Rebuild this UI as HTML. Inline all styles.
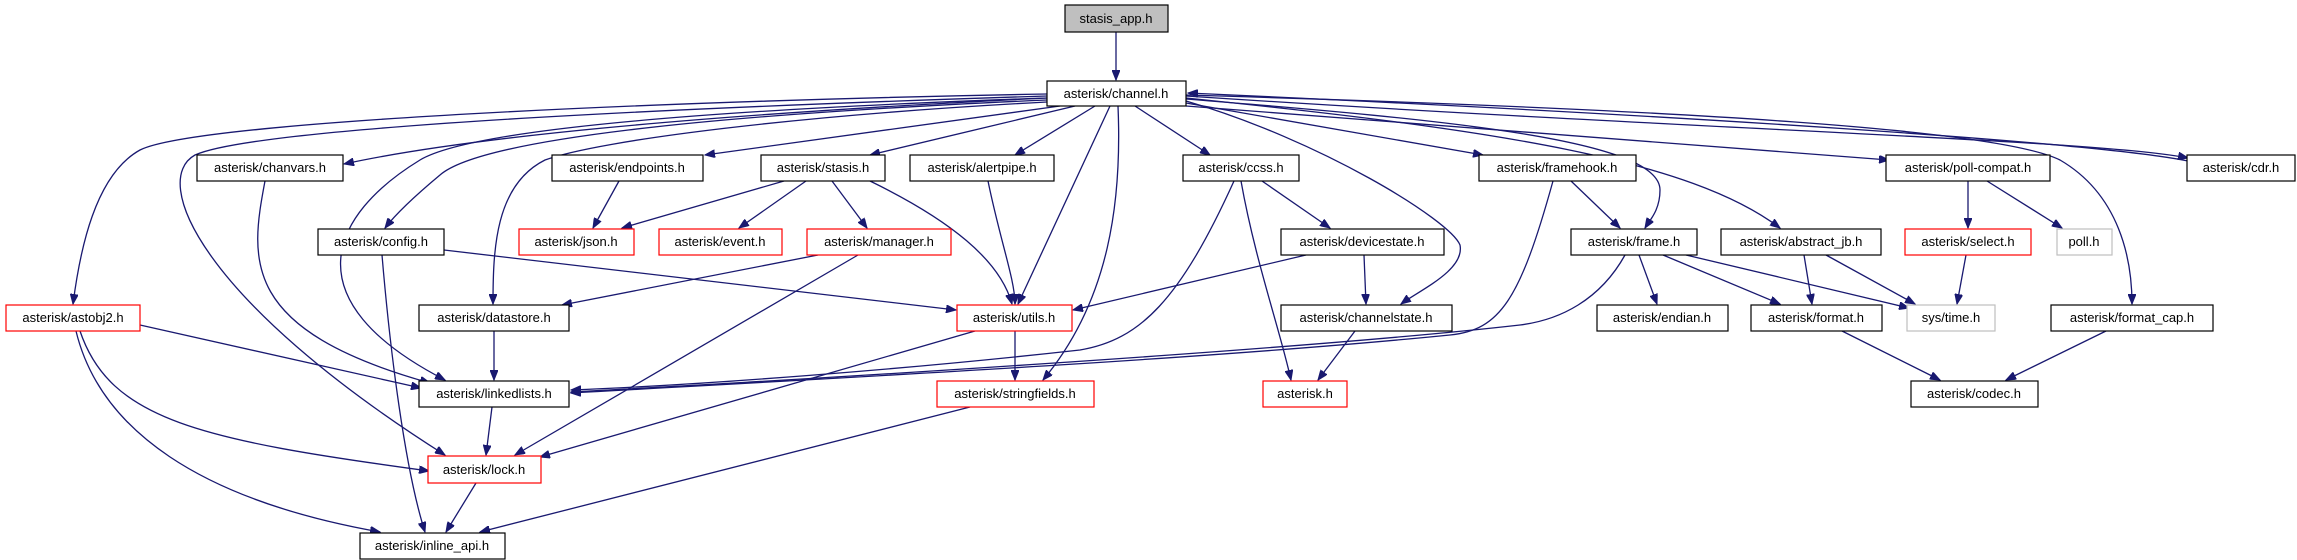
<!DOCTYPE html>
<html><head><meta charset="utf-8"><style>
html,body{margin:0;padding:0;background:#fff;}
svg{display:block;}
text{font-family:"Liberation Sans",sans-serif;font-size:13px;text-anchor:middle;fill:#000;}
.e{fill:none;stroke:#191970;stroke-width:1.3;marker-end:url(#a);}
.n{fill:#fff;stroke:#000;stroke-width:1.2;}
.r{fill:#fff;stroke:#ff0000;stroke-width:1.2;}
.g{fill:#fff;stroke:#bfbfbf;stroke-width:1.2;}
</style></head><body>
<svg width="2297" height="560" viewBox="0 0 2297 560" xmlns="http://www.w3.org/2000/svg">
<defs><marker id="a" markerUnits="userSpaceOnUse" markerWidth="11" markerHeight="8" refX="10" refY="4" orient="auto"><path d="M0,0 L10,4 L0,8 z" fill="#191970" stroke="#191970"/></marker></defs>
<g>
<path class="e" d="M1116,32 L1116,80"/>
<path class="e" d="M1047,94 C700,100 200,120 140,150 C95,175 80,250 73,304"/>
<path class="e" d="M1047,96 C600,110 250,130 195,155 C150,180 200,300 445,455"/>
<path class="e" d="M1047,98 C800,110 500,130 344,164"/>
<path class="e" d="M1047,98 C700,110 470,130 420,160 C330,215 290,300 445,380"/>
<path class="e" d="M1047,100 C700,115 480,140 440,175 C410,200 395,215 385,228"/>
<path class="e" d="M1047,102 C800,115 600,140 545,160 C495,185 493,250 493,304"/>
<path class="e" d="M265,181 C250,260 240,330 430,383"/>
<path class="e" d="M1110,106 L1018,304"/>
<path class="e" d="M1118,106 C1122,200 1110,300 1043,380"/>
<path class="e" d="M1075,106 L870,155"/>
<path class="e" d="M1060,106 L705,155"/>
<path class="e" d="M1095,106 L1015,155"/>
<path class="e" d="M1135,106 L1210,155"/>
<path class="e" d="M1186,101 C1320,140 1450,220 1460,245 C1465,270 1420,290 1401,304"/>
<path class="e" d="M1186,103 L1483,155"/>
<path class="e" d="M1186,99 C1450,120 1660,140 1660,190 C1660,210 1650,220 1645,228"/>
<path class="e" d="M1186,98 C1500,130 1690,160 1780,228"/>
<path class="e" d="M1186,106 L1889,160"/>
<path class="e" d="M1186,96 C1700,130 2100,140 2188,158"/>
<path class="e" d="M2188,161 C2100,143 1700,116 1188,93"/>
<path class="e" d="M1186,95 C1700,110 2000,130 2060,160 C2120,195 2132,260 2132,304"/>
<path class="e" d="M619,181 L593,228"/>
<path class="e" d="M784,181 L622,228"/>
<path class="e" d="M806,181 L739,228"/>
<path class="e" d="M832,181 L867,228"/>
<path class="e" d="M870,181 C950,220 1000,260 1012,304"/>
<path class="e" d="M988,181 C1000,240 1015,280 1015,304"/>
<path class="e" d="M1262,181 L1330,228"/>
<path class="e" d="M1241,181 C1255,260 1280,330 1291,380"/>
<path class="e" d="M1234,181 C1180,300 1140,340 1080,350 C900,370 700,385 571,390"/>
<path class="e" d="M1553,181 C1520,300 1500,330 1450,335 C1200,360 800,380 571,393"/>
<path class="e" d="M1571,181 L1620,228"/>
<path class="e" d="M1968,181 L1968,228"/>
<path class="e" d="M1987,181 L2062,228"/>
<path class="e" d="M444,250 L956,310"/>
<path class="e" d="M382,255 C390,350 405,470 425,532"/>
<path class="e" d="M818,255 L562,305"/>
<path class="e" d="M858,255 L515,455"/>
<path class="e" d="M1306,255 L1073,310"/>
<path class="e" d="M1364,255 L1366,304"/>
<path class="e" d="M1625,255 C1600,300 1560,320 1520,325 C1300,350 800,380 571,392"/>
<path class="e" d="M1639,255 L1657,304"/>
<path class="e" d="M1663,255 L1780,304"/>
<path class="e" d="M1686,255 L1909,308"/>
<path class="e" d="M1804,255 L1812,304"/>
<path class="e" d="M1826,255 L1915,304"/>
<path class="e" d="M1966,255 L1957,304"/>
<path class="e" d="M2106,331 L2006,380"/>
<path class="e" d="M1842,331 L1940,380"/>
<path class="e" d="M140,325 L421,388"/>
<path class="e" d="M80,331 C110,420 200,440 429,471"/>
<path class="e" d="M76,331 C100,430 200,500 380,532"/>
<path class="e" d="M494,331 L494,380"/>
<path class="e" d="M1015,331 L1015,380"/>
<path class="e" d="M975,331 L540,457"/>
<path class="e" d="M1355,331 L1318,380"/>
<path class="e" d="M492,407 L486,455"/>
<path class="e" d="M970,407 L480,532"/>
<path class="e" d="M476,483 L446,532"/>
</g>
<g>
<rect x="1065" y="5" width="103" height="27" fill="#bfbfbf" stroke="#000" stroke-width="1.2"/><text x="1116" y="23">stasis_app.h</text>
<rect class="n" x="1047" y="81" width="139" height="25"/><text x="1116" y="98">asterisk/channel.h</text>
<rect class="n" x="197" y="155" width="146" height="26"/><text x="270" y="172">asterisk/chanvars.h</text>
<rect class="n" x="552" y="155" width="151" height="26"/><text x="627" y="172">asterisk/endpoints.h</text>
<rect class="n" x="761" y="155" width="124" height="26"/><text x="823" y="172">asterisk/stasis.h</text>
<rect class="n" x="910" y="155" width="144" height="26"/><text x="982" y="172">asterisk/alertpipe.h</text>
<rect class="n" x="1183" y="155" width="116" height="26"/><text x="1241" y="172">asterisk/ccss.h</text>
<rect class="n" x="1479" y="155" width="157" height="26"/><text x="1557" y="172">asterisk/framehook.h</text>
<rect class="n" x="1886" y="155" width="164" height="26"/><text x="1968" y="172">asterisk/poll-compat.h</text>
<rect class="n" x="2187" y="155" width="108" height="26"/><text x="2241" y="172">asterisk/cdr.h</text>
<rect class="n" x="318" y="229" width="126" height="26"/><text x="381" y="246">asterisk/config.h</text>
<rect class="r" x="519" y="229" width="115" height="26"/><text x="576" y="246">asterisk/json.h</text>
<rect class="r" x="659" y="229" width="123" height="26"/><text x="720" y="246">asterisk/event.h</text>
<rect class="r" x="807" y="229" width="144" height="26"/><text x="879" y="246">asterisk/manager.h</text>
<rect class="n" x="1281" y="229" width="163" height="26"/><text x="1362" y="246">asterisk/devicestate.h</text>
<rect class="n" x="1571" y="229" width="126" height="26"/><text x="1634" y="246">asterisk/frame.h</text>
<rect class="n" x="1721" y="229" width="160" height="26"/><text x="1801" y="246">asterisk/abstract_jb.h</text>
<rect class="r" x="1905" y="229" width="126" height="26"/><text x="1968" y="246">asterisk/select.h</text>
<rect class="g" x="2057" y="229" width="55" height="26"/><text x="2084" y="246">poll.h</text>
<rect class="r" x="6" y="305" width="134" height="26"/><text x="73" y="322">asterisk/astobj2.h</text>
<rect class="n" x="419" y="305" width="150" height="26"/><text x="494" y="322">asterisk/datastore.h</text>
<rect class="r" x="957" y="305" width="115" height="26"/><text x="1014" y="322">asterisk/utils.h</text>
<rect class="n" x="1281" y="305" width="171" height="26"/><text x="1366" y="322">asterisk/channelstate.h</text>
<rect class="n" x="1597" y="305" width="131" height="26"/><text x="1662" y="322">asterisk/endian.h</text>
<rect class="n" x="1751" y="305" width="131" height="26"/><text x="1816" y="322">asterisk/format.h</text>
<rect class="g" x="1907" y="305" width="88" height="26"/><text x="1951" y="322">sys/time.h</text>
<rect class="n" x="2051" y="305" width="162" height="26"/><text x="2132" y="322">asterisk/format_cap.h</text>
<rect class="n" x="419" y="381" width="150" height="26"/><text x="494" y="398">asterisk/linkedlists.h</text>
<rect class="r" x="937" y="381" width="157" height="26"/><text x="1015" y="398">asterisk/stringfields.h</text>
<rect class="r" x="1263" y="381" width="84" height="26"/><text x="1305" y="398">asterisk.h</text>
<rect class="n" x="1911" y="381" width="127" height="26"/><text x="1974" y="398">asterisk/codec.h</text>
<rect class="r" x="428" y="456" width="113" height="27"/><text x="484" y="474">asterisk/lock.h</text>
<rect class="n" x="360" y="533" width="145" height="26"/><text x="432" y="550">asterisk/inline_api.h</text>
</g>
</svg>
</body></html>
